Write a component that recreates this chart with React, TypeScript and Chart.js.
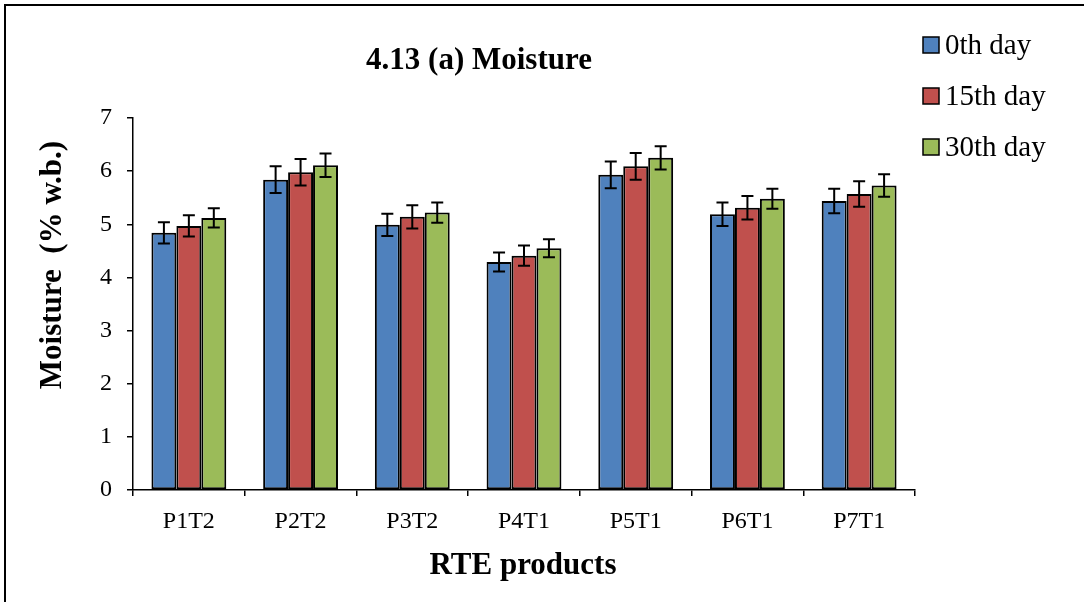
import React, { useEffect, useRef } from "react";
import { Chart, registerables } from "chart.js";

Chart.register(...registerables);

// ---- Data ----
const categories = ["P1T2", "P2T2", "P3T2", "P4T1", "P5T1", "P6T1", "P7T1"];
const seriesNames = ["0th day", "15th day", "30th day"];
const day0 = [4.84, 5.84, 4.99, 4.29, 5.93, 5.19, 5.44];
const day15 = [4.97, 5.98, 5.14, 4.41, 6.09, 5.31, 5.57];
const day30 = [5.12, 6.11, 5.22, 4.55, 6.25, 5.48, 5.73];
const err0 = [0.2, 0.25, 0.21, 0.18, 0.25, 0.22, 0.23];
const err15 = [0.2, 0.25, 0.22, 0.19, 0.25, 0.22, 0.24];
const err30 = [0.18, 0.22, 0.19, 0.17, 0.22, 0.19, 0.21];
const yTicks = [0, 1, 2, 3, 4, 5, 6, 7];
const chartTitle = "4.13 (a) Moisture";
const yTitle = "Moisture  (% w.b.)";
const xTitle = "RTE products";

// ---- Styles ----
const colors = ["#4F81BD", "#C0504D", "#9BBB59"];
const FONT = "'Liberation Serif', 'Times New Roman', Times, serif";

const decorPlugin = {
  id: "decor",
  afterDatasetsDraw(chart: any) {
    const ctx = chart.ctx;
    const ys = chart.scales.y;
    ctx.save();
    ctx.strokeStyle = "#000";
    ctx.lineWidth = 2;
    chart.data.datasets.forEach((ds: any, di: number) => {
      const meta = chart.getDatasetMeta(di);
      meta.data.forEach((bar: any, i: number) => {
        const v = ds.data[i];
        const e = ds.errors[i];
        const top = ys.getPixelForValue(v + e);
        const bot = ys.getPixelForValue(v - e);
        const x = bar.x;
        ctx.beginPath();
        ctx.moveTo(x, top);
        ctx.lineTo(x, bot);
        ctx.moveTo(x - 6, top);
        ctx.lineTo(x + 6, top);
        ctx.moveTo(x - 6, bot);
        ctx.lineTo(x + 6, bot);
        ctx.stroke();
      });
    });
    ctx.restore();
  },
  afterDraw(chart: any) {
    const ctx = chart.ctx;
    const W = chart.width;
    const H = chart.height;
    ctx.save();
    // outer frame (top and left edges visible)
    ctx.strokeStyle = "#000";
    ctx.lineWidth = 2;
    ctx.beginPath();
    ctx.moveTo(5, H);
    ctx.lineTo(5, 5);
    ctx.lineTo(W, 5);
    ctx.stroke();

    ctx.fillStyle = "#000";
    // title
    ctx.font = `bold 31px ${FONT}`;
    ctx.textAlign = "center";
    ctx.textBaseline = "middle";
    ctx.fillText(chartTitle, 479, 61);

    // x axis title
    ctx.font = `bold 31px ${FONT}`;
    ctx.fillText(xTitle, 523, 566);

    // y axis title
    ctx.save();
    ctx.translate(53, 265);
    ctx.rotate(-Math.PI / 2);
    ctx.font = `bold 31px ${FONT}`;
    ctx.fillText(yTitle, 0, 0);
    ctx.restore();

    // legend
    ctx.textAlign = "left";
    ctx.font = `29px ${FONT}`;
    seriesNames.forEach((name, i) => {
      const cy = 45 + i * 51;
      ctx.fillStyle = colors[i];
      ctx.fillRect(923, cy - 8, 16, 16);
      ctx.strokeStyle = "#000";
      ctx.lineWidth = 1.5;
      ctx.strokeRect(923, cy - 8, 16, 16);
      ctx.fillStyle = "#000";
      ctx.fillText(name, 945, cy + 1);
    });
    ctx.restore();
  },
};

export default function App() {
  const ref = useRef<HTMLCanvasElement | null>(null);

  useEffect(() => {
    if (!ref.current) return;
    Chart.defaults.font.family = FONT;
    Chart.defaults.color = "#000";
    const values = [day0, day15, day30];
    const errors = [err0, err15, err30];
    const chart = new Chart(ref.current, {
      type: "bar",
      data: {
        labels: categories,
        datasets: seriesNames.map((name, i) => ({
          label: name,
          data: values[i],
          errors: errors[i],
          backgroundColor: colors[i],
          borderColor: "#000",
          borderWidth: 2,
          borderSkipped: false,
          categoryPercentage: 0.67,
          barPercentage: 1.0,
        })) as any,
      },
      options: {
        responsive: false,
        animation: false,
        layout: { padding: { left: 0, right: 169, top: 118, bottom: 0 } },
        plugins: {
          legend: { display: false },
          title: { display: false },
          tooltip: { enabled: false },
        },
        scales: {
          x: {
            grid: {
              offset: true,
              drawOnChartArea: false,
              drawTicks: true,
              tickLength: 6,
              color: "#000",
              lineWidth: 1.5,
            },
            border: { display: true, color: "#000", width: 1.5 },
            ticks: { font: { size: 24 }, color: "#000", padding: 11, maxRotation: 0 },
            afterFit: (s: any) => {
              s.height = 112;
            },
          },
          y: {
            min: 0,
            max: 7,
            afterBuildTicks: (s: any) => {
              s.ticks = yTicks.map((v) => ({ value: v }));
            },
            grid: {
              drawOnChartArea: false,
              drawTicks: true,
              tickLength: 6,
              color: "#000",
              lineWidth: 1.5,
            },
            border: { display: true, color: "#000", width: 1.5 },
            ticks: { font: { size: 24 }, color: "#000", padding: 15 },
            afterFit: (s: any) => {
              s.width = 133;
            },
          },
        },
      },
      plugins: [decorPlugin],
    });
    return () => chart.destroy();
  }, []);

  return (
    <div style={{ position: "fixed", left: 0, top: 0, width: 1084, height: 602, background: "#fff" }}>
      <canvas ref={ref} width={1084} height={602} style={{ display: "block" }} />
    </div>
  );
}
